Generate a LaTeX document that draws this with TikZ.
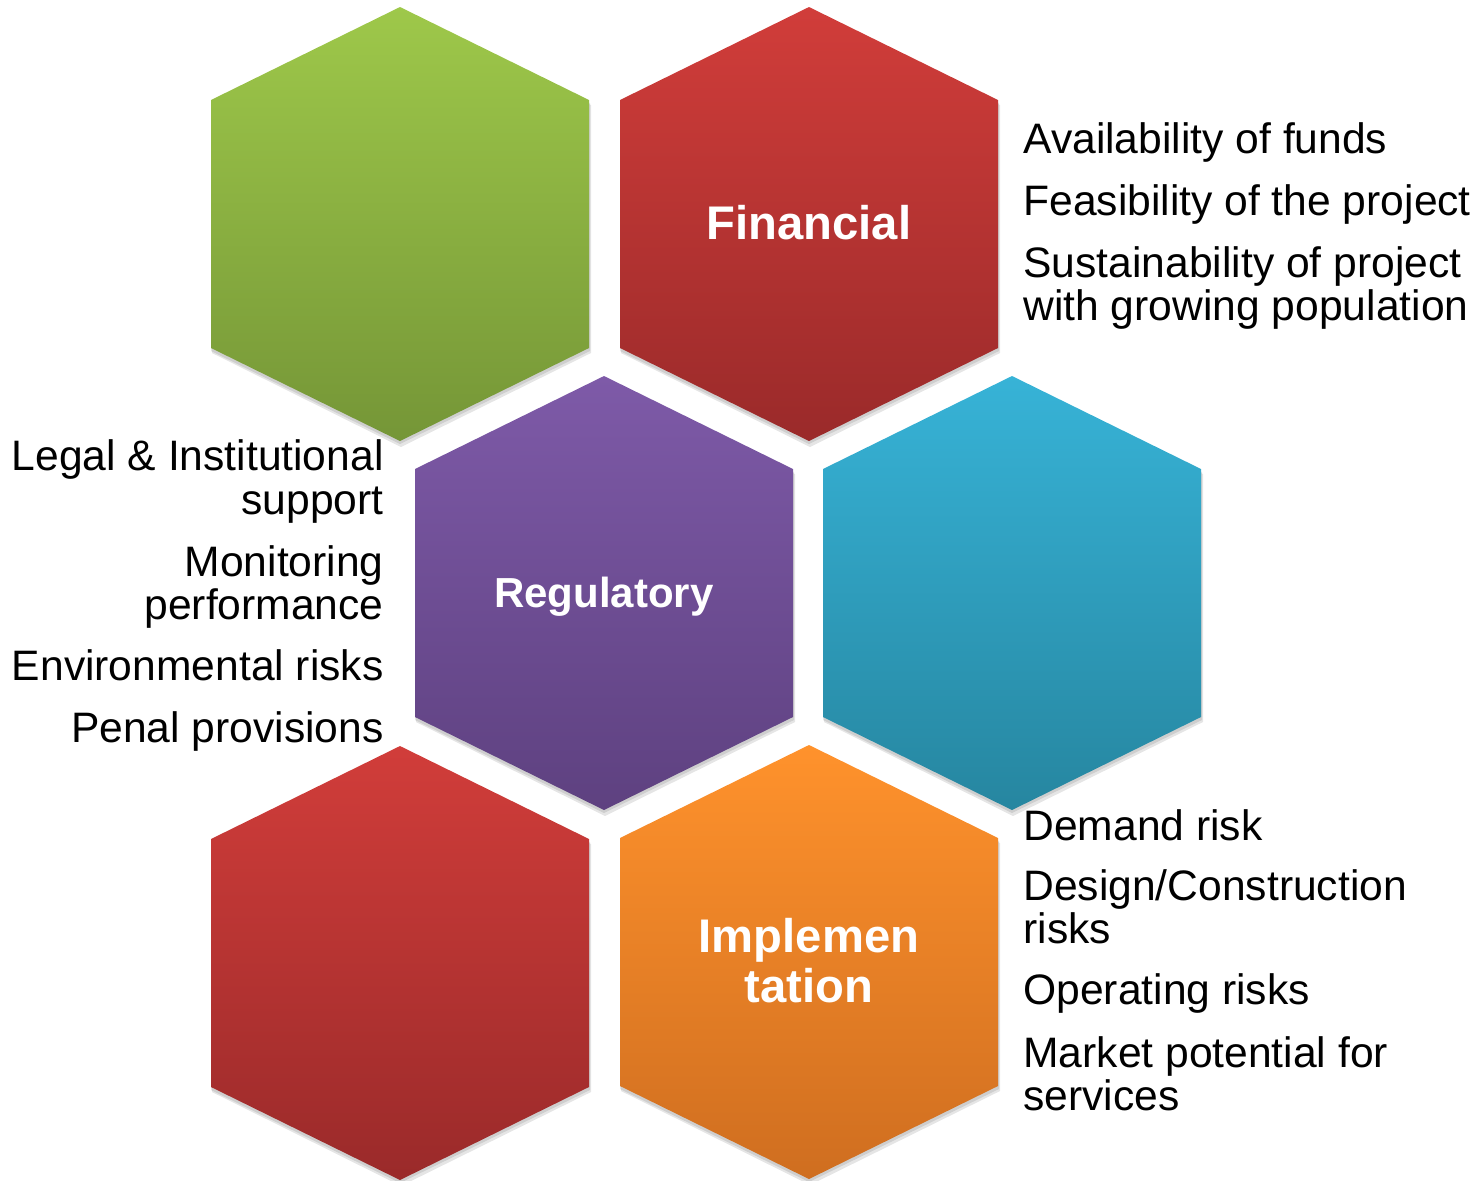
\documentclass[tikz,border=0pt]{standalone}
\usepackage{fontspec}
\setmainfont{Liberation Sans}
\definecolor{grTop}{RGB}{158,200,74}
\definecolor{grBot}{RGB}{117,150,55}
\definecolor{rdTop}{RGB}{209,61,58}
\definecolor{rdBot}{RGB}{154,42,42}
\definecolor{puTop}{RGB}{126,90,168}
\definecolor{puBot}{RGB}{94,65,128}
\definecolor{blTop}{RGB}{55,179,215}
\definecolor{blBot}{RGB}{38,134,160}
\definecolor{orTop}{RGB}{255,146,44}
\definecolor{orBot}{RGB}{207,110,32}
\tikzset{
  pics/hexa/.style 2 args={code={
    \fill[black,opacity=0.10] (1,-213) -- (191,-119) -- (191,129) -- (1,223) -- (-188,129) -- (-188,-119) -- cycle;
    \fill[black,opacity=0.10] (0,-215) -- (190,-121) -- (190,127) -- (0,220) -- (-189,127) -- (-189,-121) -- cycle;
    \shade[top color=#1,bottom color=#2] (0,-217) -- (189,-124) -- (189,124) -- (0,217) -- (-189,124) -- (-189,-124) -- cycle;
  }},
  item/.style={font=\fontsize{21.3}{22}\selectfont, inner sep=0pt, text=black},
  hexlabel/.style={font=\fontsize{23.6}{25}\selectfont\bfseries, inner sep=0pt, text=white},
  reglabel/.style={font=\fontsize{21}{22}\selectfont\bfseries, inner sep=0pt, text=white}
}
\begin{document}
\begin{tikzpicture}[x=0.5pt,y=-0.5pt]
\useasboundingbox (0,0) rectangle (1484,1180);
% hexagons
\pic at (400,224) {hexa={grTop}{grBot}};
\pic at (809,224) {hexa={rdTop}{rdBot}};
\pic at (604,593) {hexa={puTop}{puBot}};
\pic at (1012,593) {hexa={blTop}{blBot}};
\pic at (400,963) {hexa={rdTop}{rdBot}};
\pic at (809,962) {hexa={orTop}{orBot}};
% hexagon labels
\node[hexlabel, anchor=base] (fin) at (809,239) {Financial};
\node[reglabel, anchor=base] (reg) at (604,607) {Regulatory};
\node[hexlabel, anchor=base] (imp1) at (809,952) {Implemen};
\node[hexlabel, anchor=base] (imp2) at (809,1002) {tation};
% financial items
\node[item, anchor=base west] (f1) at (1023,153) {Availability of funds};
\node[item, anchor=base west] (f2) at (1023,215) {Feasibility of the project};
\node[item, anchor=base west] (f3a) at (1023,277) {Sustainability of project};
\node[item, anchor=base west] (f3b) at (1023,320) {with growing population};
% regulatory items
\node[item, anchor=base east] (r1a) at (384,470) {Legal \& Institutional};
\node[item, anchor=base east] (r1b) at (384,514) {support};
\node[item, anchor=base east] (r2a) at (384,576) {Monitoring};
\node[item, anchor=base east] (r2b) at (384,619) {performance};
\node[item, anchor=base east] (r3) at (384,680) {Environmental risks};
\node[item, anchor=base east] (r4) at (384,742) {Penal provisions};
% implementation items
\node[item, anchor=base west] (i1) at (1023,840) {Demand risk};
\node[item, anchor=base west] (i2a) at (1023,900) {Design/Construction};
\node[item, anchor=base west] (i2b) at (1023,943) {risks};
\node[item, anchor=base west] (i3) at (1023,1004) {Operating risks};
\node[item, anchor=base west] (i4a) at (1023,1067) {Market potential for};
\node[item, anchor=base west] (i4b) at (1023,1110) {services};
\end{tikzpicture}
\end{document}
